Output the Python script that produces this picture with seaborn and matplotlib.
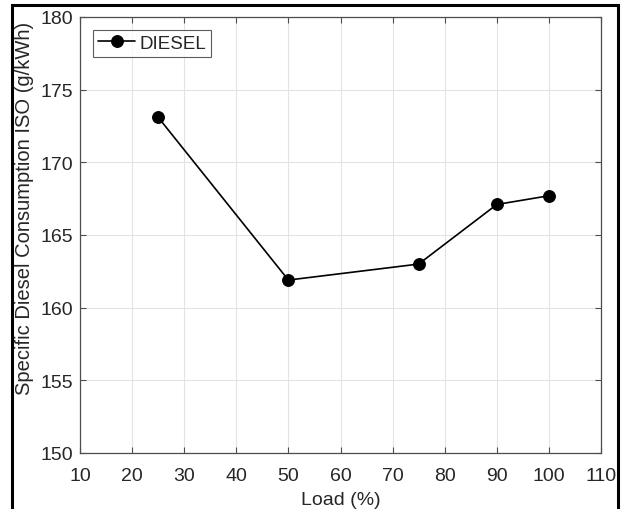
import matplotlib
matplotlib.use("Agg")
import matplotlib.pyplot as plt
import seaborn as sns
import pandas as pd
from matplotlib.patches import Rectangle

load = [25, 50, 75, 90, 100]
consumption = [173.1, 161.9, 163.0, 167.1, 167.7]
series_name = "DIESEL"
x_ticks = [10, 20, 30, 40, 50, 60, 70, 80, 90, 100, 110]
y_ticks = [150, 155, 160, 165, 170, 175, 180]

df = pd.DataFrame({"Load": load, "Consumption": consumption, "Series": series_name})

sns.set_theme(style="white")
plt.rcParams['font.family'] = ['Liberation Sans', 'DejaVu Sans']

W, H = 624, 510
fig = plt.figure(figsize=(W / 100, H / 100), dpi=100)
ax = fig.add_axes([80 / W, 1 - 454 / H, (601 - 80) / W, (454 - 18) / H])

sns.lineplot(data=df, x="Load", y="Consumption", ax=ax, color="black",
             marker="o", markersize=8.5, linewidth=1.2, label=series_name,
             markeredgecolor="black", markerfacecolor="black")

ax.set_xlim(10, 110)
ax.set_ylim(150, 180)
ax.set_xticks(x_ticks)
ax.set_yticks(y_ticks)
ax.grid(True, color="#e3e3e3", linewidth=0.8)
ax.set_axisbelow(True)
for s in ax.spines.values():
    s.set_color("#4d4d4d")
    s.set_linewidth(0.9)
ax.tick_params(direction="in", length=4, width=0.8, color="#4d4d4d",
               labelsize=14, labelcolor="#262626", top=True, right=True,
               bottom=True, left=True, labeltop=False, labelright=False)
ax.tick_params(axis="x", pad=10)
ax.tick_params(axis="y", pad=5)
ax.set_xlabel("Load (%)", fontsize=14, color="#262626", labelpad=5)
ax.set_ylabel("Specific Diesel Consumption ISO (g/kWh)", fontsize=14.5,
              color="#262626")
ax.yaxis.set_label_coords(-0.088, (454 - 208) / 436)

leg = ax.legend(loc="upper left", fontsize=13.5, frameon=True, fancybox=False,
                edgecolor="#333333", borderpad=0.25, handlelength=2.0,
                handletextpad=0.2, borderaxespad=0.7)
leg.get_frame().set_linewidth(0.8)

fig.patches.append(Rectangle((12 / W, -0.05), (618 - 12) / W, 1 - 6 / H + 0.05,
                             transform=fig.transFigure, fill=False,
                             edgecolor="black", linewidth=2.2, clip_on=False))

fig.savefig("out.png", dpi=100)
